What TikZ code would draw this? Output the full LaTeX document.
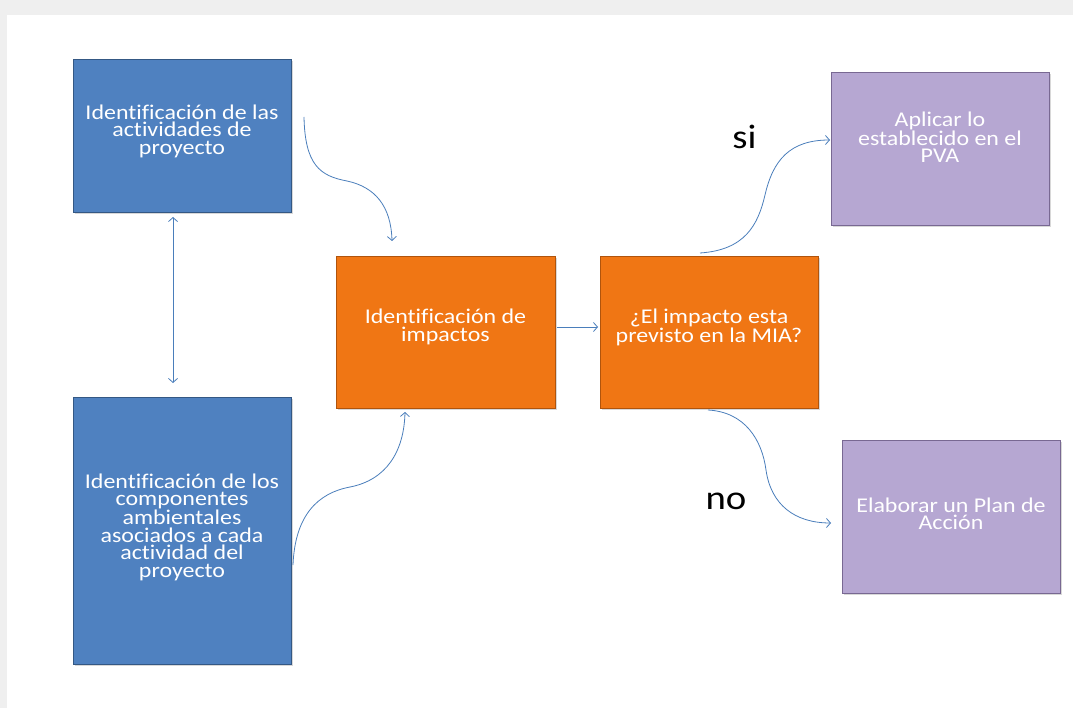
\documentclass[tikz,border=0pt]{standalone}
\usepackage{fontspec}
\setmainfont{Carlito}[FakeStretch=1.14,Ligatures=CommonOff]
\usetikzlibrary{arrows.meta,shadows,calc}
\definecolor{bluebox}{RGB}{79,129,192}
\definecolor{blueedge}{RGB}{52,88,132}
\definecolor{orangebox}{RGB}{240,118,20}
\definecolor{orangeedge}{RGB}{176,84,12}
\definecolor{purplebox}{RGB}{182,167,210}
\definecolor{purpleedge}{RGB}{120,104,146}
\definecolor{arrowcol}{RGB}{74,126,187}
\definecolor{framegray}{RGB}{239,239,239}
\tikzset{
  box/.style={draw=#1edge, fill=#1box, line width=1pt,
    drop shadow={opacity=0.3, shadow xshift=1.5pt, shadow yshift=-1.5pt}},
  boxtext/.style={text=white, align=center, inner sep=0pt,
    font=\fontsize{21}{17.5}\selectfont},
  answer/.style={text=black, inner sep=0pt, anchor=base,
    font=\fontsize{34}{34}\selectfont},
  conn/.style={draw=arrowcol, line width=0.8pt,
    >={Straight Barb[length=4pt,width=9pt]}},
}
\begin{document}
\begin{tikzpicture}[x=1pt,y=-1pt]
\useasboundingbox (0,0) rectangle (1073,708);
\fill[framegray] (0,0) rectangle (1073,708);
\fill[white] (7,15) rectangle (1073,708);

% boxes
\node[box=blue, minimum width=218pt, minimum height=153pt] (b1) at (182,136.5) {};
\node[boxtext] (b1t) at (182,131) {Identificación de las\\actividades de\\proyecto};

\node[box=blue, minimum width=218pt, minimum height=267pt] (b2) at (182,530.5) {};
\node[boxtext] (b2t) at (182,527) {Identificación de los\\componentes\\ambientales\\asociados a cada\\actividad del\\proyecto};

\node[box=orange, minimum width=219pt, minimum height=151pt] (o1) at (445.5,332.5) {};
\node[boxtext] (o1t) at (445.5,327) {Identificación de\\impactos};

\node[box=orange, minimum width=218pt, minimum height=151pt] (o2) at (709,332.5) {};
\node[boxtext] (o2t) at (709,327) {¿El impacto esta\\previsto en la MIA?};

\node[box=purple, minimum width=218pt, minimum height=153pt] (p1) at (940,149.5) {};
\node[boxtext] (p1t) at (940,137) {Aplicar lo\\establecido en el\\PVA};

\node[box=purple, minimum width=218pt, minimum height=153pt] (p2) at (951,516.5) {};
\node[boxtext] (p2t) at (951,514) {Elaborar un Plan de\\Acción};

% answers
\node[answer] (si) at (744.5,149) {si};
\node[answer] (no) at (726,509) {no};

% connector ends
\coordinate (dA) at (173,217);
\coordinate (dB) at (173,383);
\coordinate (c1s) at (304,117);
\coordinate (c1e) at (392,241);
\coordinate (c2s) at (293,565);
\coordinate (c2e) at (405,412);
\coordinate (hA) at (557,327);
\coordinate (hB) at (598,327);
\coordinate (sA) at (700,253);
\coordinate (sB) at (830,140);
\coordinate (nA) at (708,410);
\coordinate (nB) at (831,523);

% connectors
\draw[conn,<->] (dA) -- (dB);
\draw[conn,->] (c1s) .. controls (305,165) and (320,176) .. (347,181)
                     .. controls (375,187) and (391,206) .. (c1e);
\draw[conn,->] (c2s) .. controls (295,515) and (318,493) .. (350,487)
                     .. controls (386,480) and (404,452) .. (c2e);
\draw[conn,->] (hA) -- (hB);
\draw[conn,->] (sA) .. controls (745,250) and (758,225) .. (765,195)
                    .. controls (773,160) and (790,140) .. (sB);
\draw[conn,->] (nA) .. controls (745,412) and (762,440) .. (766,470)
                    .. controls (771,505) and (795,523) .. (nB);
\end{tikzpicture}
\end{document}
